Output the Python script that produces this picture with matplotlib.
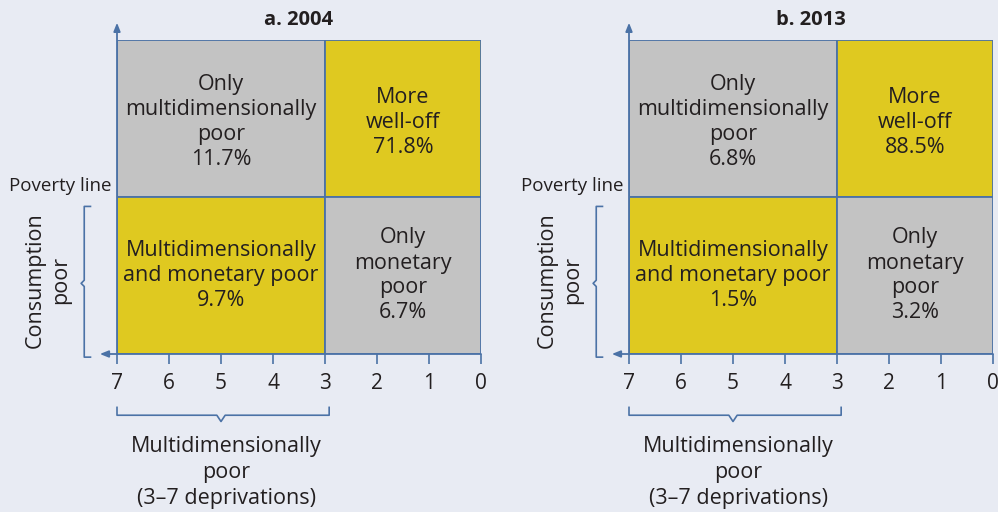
import matplotlib
matplotlib.use("Agg")
import matplotlib.pyplot as plt

plt.rcParams["font.family"] = ["Open Sans", "DejaVu Sans"]

panel_titles = ["a. 2004", "b. 2013"]
only_multidim = [11.7, 6.8]
more_well_off = [71.8, 88.5]
multidim_and_monetary = [9.7, 1.5]
only_monetary = [6.7, 3.2]
deprivation_ticks = [7, 6, 5, 4, 3, 2, 1, 0]
multidim_cutoff = 3

BG = "#e8ebf3"
GREY = "#c3c3c3"
YELLOW = "#dfc920"
BLUE = "#4b72a6"
TXT = "#231f20"
FS = 15.5
LS = 1.25

fig = plt.figure(figsize=(9.98, 5.12), dpi=100, facecolor=BG)
lefts = [117 / 998, 629 / 998]

for i in range(2):
    ax = fig.add_axes([lefts[i], 158 / 512, 364 / 998, 314 / 512])
    ax.set_facecolor(BG)
    xmax = max(deprivation_ticks)
    xmin = min(deprivation_ticks)
    c = multidim_cutoff

    # quadrants: top row then bottom row
    ax.bar([(xmax + c) / 2, (c + xmin) / 2], 1, width=[xmax - c, c - xmin], bottom=1,
           color=[GREY, YELLOW], edgecolor=BLUE, linewidth=1.3)
    ax.bar([(xmax + c) / 2, (c + xmin) / 2], 1, width=[xmax - c, c - xmin], bottom=0,
           color=[YELLOW, GREY], edgecolor=BLUE, linewidth=1.3)

    ax.text((xmax + c) / 2, 1.475,
            "Only\nmultidimensionally\npoor\n{:.1f}%".format(only_multidim[i]),
            ha="center", va="center", fontsize=FS, color=TXT, linespacing=LS)
    ax.text((c + xmin) / 2, 1.475, "More\nwell-off\n{:.1f}%".format(more_well_off[i]),
            ha="center", va="center", fontsize=FS, color=TXT, linespacing=LS)
    ax.text((xmax + c) / 2, 0.5,
            "Multidimensionally\nand monetary poor\n{:.1f}%".format(multidim_and_monetary[i]),
            ha="center", va="center", fontsize=FS, color=TXT, linespacing=LS)
    ax.text((c + xmin) / 2, 0.5, "Only\nmonetary\npoor\n{:.1f}%".format(only_monetary[i]),
            ha="center", va="center", fontsize=FS, color=TXT, linespacing=LS)

    ax.set_xlim(xmax, xmin)
    ax.set_ylim(0, 2)
    ax.set_xticks(deprivation_ticks)
    ax.set_xticklabels([str(t) for t in deprivation_ticks])
    ax.tick_params(axis="x", direction="out", length=7, width=1.2, color=BLUE,
                   labelsize=15, labelcolor=TXT, pad=7)
    ax.set_yticks([])
    for s in ax.spines.values():
        s.set_visible(False)

    # axis arrows
    ax.annotate("", xy=(xmax, 2.11), xytext=(xmax, 0), annotation_clip=False,
                arrowprops=dict(arrowstyle="-|>,head_length=0.5,head_width=0.2",
                                color=BLUE, lw=1.3, shrinkA=0, shrinkB=0))
    ax.annotate("", xy=(xmax + 0.33, 0), xytext=(xmin, 0), annotation_clip=False,
                arrowprops=dict(arrowstyle="-|>,head_length=0.5,head_width=0.2",
                                color=BLUE, lw=1.3, shrinkA=0, shrinkB=0))

    # left brace (consumption poor)
    bx = xmax + 0.63
    ax.plot([bx - 0.12, bx, bx, bx + 0.06, bx, bx, bx - 0.12],
            [0.94, 0.94, 0.47, 0.45, 0.43, -0.02, -0.02],
            color=BLUE, lw=1.2, clip_on=False)
    ax.text(xmax + 1.33, 0.47, "Consumption\npoor", rotation=90, ha="center", va="center",
            fontsize=FS, color=TXT, linespacing=1.3)
    ax.text(xmax + 0.1, 1.01, "Poverty line", ha="right", va="bottom",
            fontsize=13.5, color=TXT)

    # bottom brace (multidimensionally poor)
    by = -0.39
    ax.plot([xmax, xmax, (xmax + c) / 2 + 0.08, (xmax + c) / 2, (xmax + c) / 2 - 0.08,
             c - 0.08, c - 0.08],
            [by + 0.05, by, by, by - 0.04, by, by, by + 0.05],
            color=BLUE, lw=1.2, clip_on=False)
    ax.text((xmax + c) / 2 - 0.1, by - 0.135,
            "Multidimensionally\npoor\n(3\u20137 deprivations)",
            ha="center", va="top", fontsize=FS, color=TXT, linespacing=1.3)

    ax.set_title(panel_titles[i], fontsize=14.5, fontweight="bold", color=TXT, pad=11)

fig.savefig("out.png", dpi=100, facecolor=BG)
